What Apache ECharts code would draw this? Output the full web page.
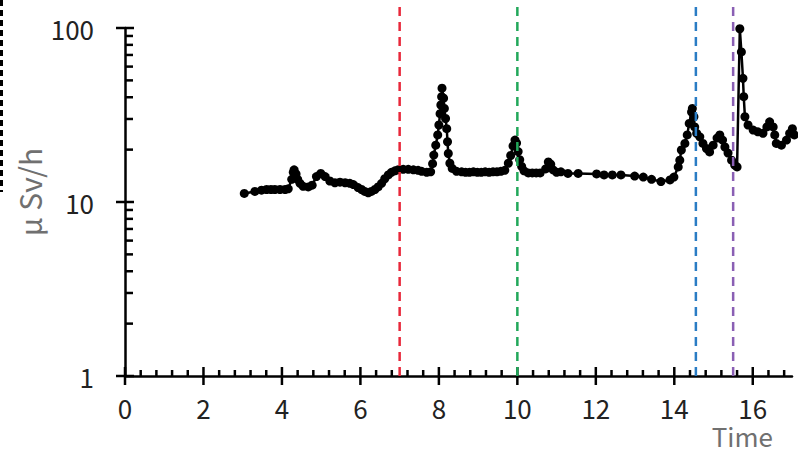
<!DOCTYPE html>
<html><head><meta charset="utf-8">
<script src="https://cdn.jsdelivr.net/npm/echarts@6/dist/echarts.min.js"></script>
<style>html,body{margin:0;padding:0;background:#fff}#c{width:798px;height:449px}</style>
</head><body><div id="c"></div>
<script>
// ---- data ----
const times = [3.04,3.31,3.48,3.61,3.72,3.82,3.95,4.08,4.16,4.25,4.29,4.31,4.36,4.40,4.46,4.54,4.67,4.77,4.88,4.99,
5.10,5.22,5.35,5.48,5.61,5.73,5.82,5.94,6.03,6.11,6.20,6.28,6.37,6.45,6.54,6.62,6.71,6.79,6.88,6.96,
7.09,7.22,7.35,7.47,7.56,7.69,7.79,7.84,7.87,7.92,7.97,8.00,8.03,8.05,8.07,8.08,8.12,8.14,8.17,8.20,
8.22,8.24,8.28,8.34,8.45,8.58,8.68,8.78,8.88,8.98,9.08,9.18,9.28,9.38,9.48,9.58,9.68,9.77,9.83,9.89,
9.94,9.98,10.02,10.06,10.11,10.17,10.28,10.38,10.48,10.58,10.72,10.79,10.85,10.91,11.00,11.11,11.29,11.55,12.02,12.21,
12.42,12.64,12.99,13.21,13.42,13.66,13.89,13.99,14.10,14.14,14.18,14.27,14.33,14.38,14.44,14.46,14.50,14.52,14.57,14.65,
14.73,14.82,14.90,14.99,15.09,15.16,15.23,15.29,15.37,15.46,15.54,15.60,15.67,15.71,15.75,15.77,15.80,15.88,16.01,16.13,
16.26,16.36,16.43,16.52,16.56,16.60,16.73,16.86,16.94,17.01,17.06];
const doseRates = [11.2,11.5,11.7,11.8,11.8,11.8,11.8,11.8,11.9,13.5,14.8,15.3,14.5,13.5,12.8,12.3,12.2,12.5,14.0,14.6,
14.0,13.2,12.9,13.0,12.9,12.8,12.6,12.1,11.8,11.5,11.3,11.5,11.8,12.2,12.8,13.6,14.3,14.8,15.1,15.3,
15.4,15.4,15.3,15.2,15.0,14.8,14.9,16.6,18.6,21.2,24.3,27.7,32.2,36.1,40.3,45.1,39.5,34.5,30.2,26.4,
22.2,19.0,16.7,15.6,15.0,14.9,14.8,14.8,14.9,14.8,14.8,14.9,14.8,14.9,14.9,15.0,15.2,16.7,18.5,21.0,
22.7,21.8,19.5,17.5,16.0,15.1,14.7,14.7,14.7,14.7,15.5,17.0,16.5,15.3,14.8,14.9,14.6,14.6,14.5,14.3,
14.3,14.3,14.1,13.9,13.5,13.1,13.4,13.9,15.9,17.4,19.9,21.7,24.3,28.3,32.9,34.5,30.9,27.0,24.8,23.7,
21.7,20.3,19.4,21.2,23.3,24.3,22.7,20.7,19.1,17.4,16.3,15.9,99,72.9,51.4,40.3,30.9,27.7,25.9,25.3,
24.8,27.0,28.9,27.0,24.3,21.7,21.2,22.7,24.8,26.4,24.3];
const eventTimes = [7.0, 10.0, 14.55, 15.5];
const xMajorTicks = [0,2,4,6,8,10,12,14,16];
const xMinorStep = 0.4;
const xMax = 17;
const yMajorTicks = [1,10,100];
const yMinorTicks = [2,3,4,5,6,7,8,9,20,30,40,50,60,70,80,90];
const yLabel = 'μ Sv/h';
const xLabel = 'Time';

// ---- styles ----
const eventColors = ['#e8283a','#22a85a','#2a7cc4','#8a5fb4'];
const FONT = '"Noto Sans CJK JP", "Noto Sans", sans-serif';

const xMinorTicks = [];
for (let k = 1; k * xMinorStep < xMax; k++) {
  const v = +(k * xMinorStep).toFixed(2);
  if (Math.abs(v / 2 - Math.round(v / 2)) > 1e-6) xMinorTicks.push(v);
}
const xTickData = xMajorTicks.map(v => [v, 1, 1]).concat(xMinorTicks.map(v => [v, 1, 0]));
const yTickData = yMajorTicks.map(v => [0, v, 1]).concat(yMinorTicks.map(v => [0, v, 0]));
const seriesData = times.map((t, i) => [t, doseRates[i]]);

const chart = echarts.init(document.getElementById('c'), null, {renderer: 'svg'});
chart.setOption({
  animation: false,
  backgroundColor: '#fff',
  grid: {left: 125, right: 6, top: 28, bottom: 73, containLabel: false},
  xAxis: {
    type: 'value', min: 0, max: xMax, interval: 2,
    axisLine: {show: true, onZero: false, lineStyle: {color: '#000', width: 2.5}},
    axisTick: {show: false}, splitLine: {show: false},
    axisLabel: {fontSize: 26, color: '#222', margin: 18, fontFamily: FONT, showMaxLabel: false,
      formatter: v => (xMajorTicks.indexOf(v) >= 0 ? String(v) : '')}
  },
  yAxis: {
    type: 'log', logBase: 10, min: 1, max: 100,
    axisLine: {show: true, lineStyle: {color: '#000', width: 2.5}},
    axisTick: {show: false}, splitLine: {show: false},
    axisLabel: {fontSize: 26, color: '#222', margin: 31, fontFamily: FONT}
  },
  graphic: [
    {type: 'text', x: 29, y: 192, rotation: Math.PI / 2,
      style: {text: yLabel, fontSize: 30, fill: '#707070', fontFamily: FONT, align: 'center', verticalAlign: 'middle'}},
    {type: 'text', x: 773, y: 435,
      style: {text: xLabel, fontSize: 26, fill: '#707070', fontFamily: FONT, align: 'right', verticalAlign: 'middle'}},
    {type: 'line', shape: {x1: 1.5, y1: 0, x2: 1.5, y2: 192},
      style: {stroke: '#000', lineWidth: 3, lineDash: [6, 4]}}
  ],
  series: [
    {
      type: 'line', data: seriesData, clip: false, z: 3,
      symbol: 'circle', symbolSize: 9, showSymbol: true,
      lineStyle: {color: '#000', width: 2.5}, itemStyle: {color: '#000'}
    },
    {
      type: 'custom', data: xTickData, z: 4, silent: true,
      renderItem: (params, api) => {
        const p = api.coord([api.value(0), api.value(1)]);
        const major = api.value(2) === 1;
        return {type: 'line', shape: {x1: p[0], y1: p[1] - (major ? 9 : 6), x2: p[0], y2: p[1] + (major ? 9 : 0)},
          style: {stroke: '#000', lineWidth: 2.5}};
      }
    },
    {
      type: 'custom', data: yTickData, z: 4, silent: true,
      renderItem: (params, api) => {
        const p = api.coord([api.value(0), api.value(1)]);
        const major = api.value(2) === 1;
        return {type: 'line', shape: {x1: p[0] - (major ? 9 : 0), y1: p[1], x2: p[0] + (major ? 9 : 8), y2: p[1]},
          style: {stroke: '#000', lineWidth: 2.5}};
      }
    },
    {
      type: 'custom', data: eventTimes.map((t, i) => [t, 1, i]), z: 5, silent: true,
      renderItem: (params, api) => {
        const b = api.coord([api.value(0), 1]);
        const t = api.coord([api.value(0), 100]);
        return {type: 'line', shape: {x1: b[0], y1: b[1], x2: b[0], y2: t[1] - 23},
          style: {stroke: eventColors[api.value(2)], lineWidth: 2.5, lineDash: [9, 6]}};
      }
    }
  ]
});
</script>
</body></html>
